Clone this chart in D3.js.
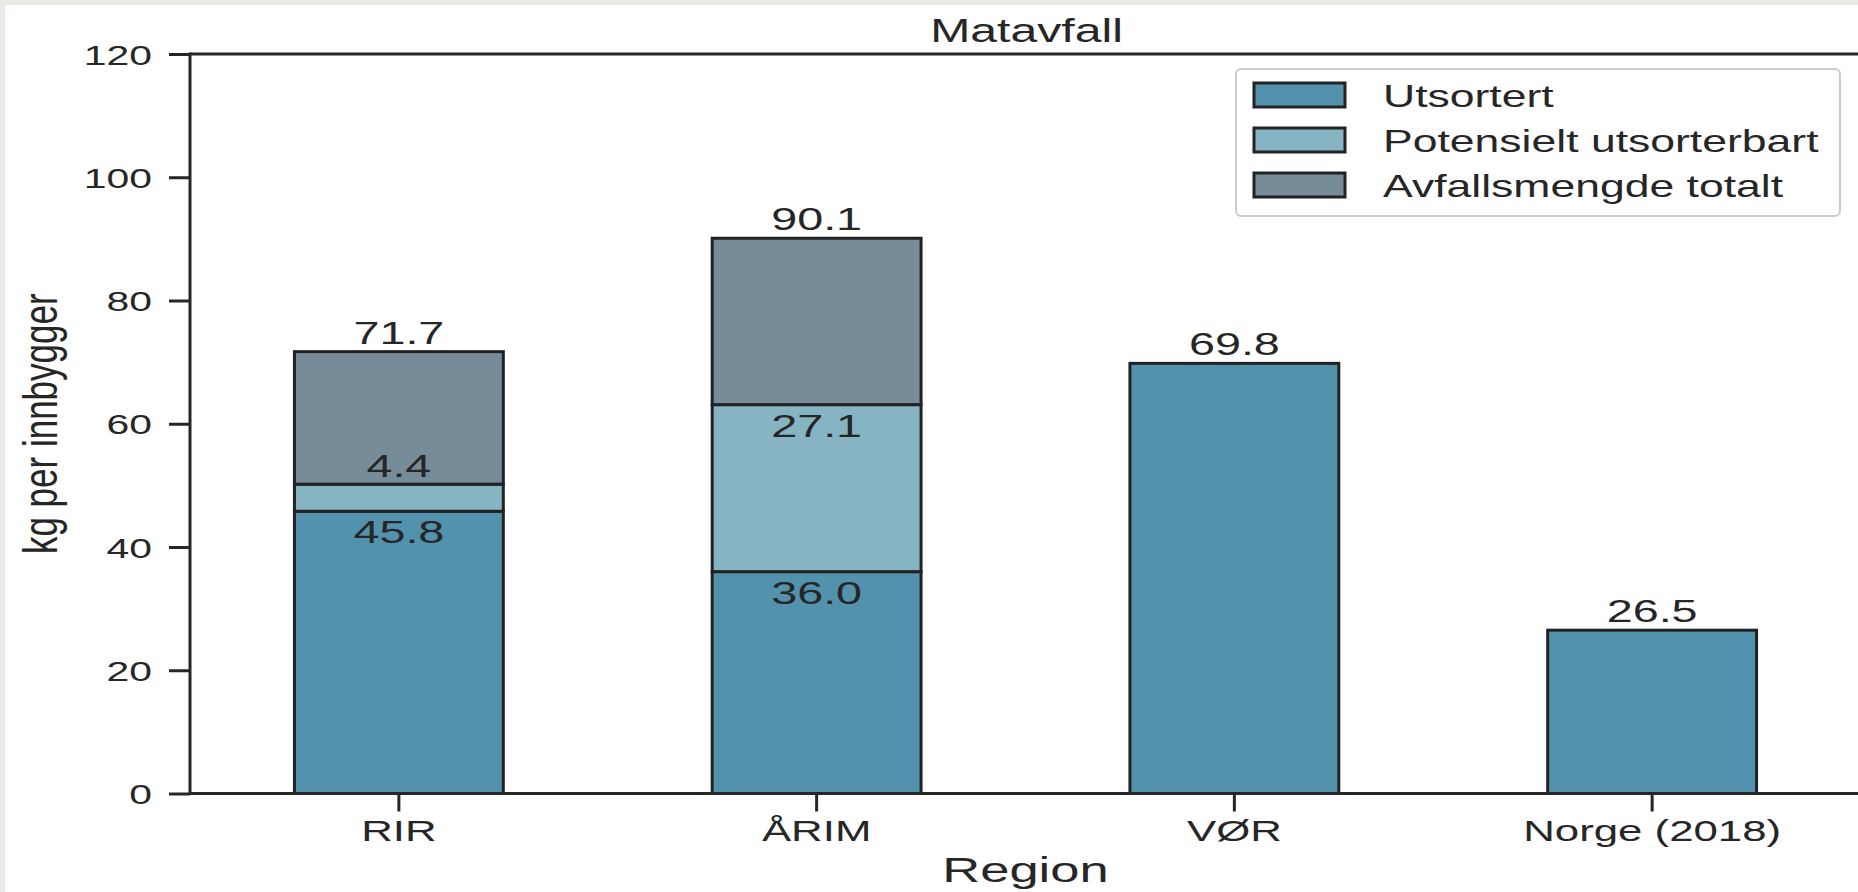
<!DOCTYPE html>
<html>
<head>
<meta charset="utf-8">
<script src="https://cdn.jsdelivr.net/npm/d3@7/dist/d3.min.js"></script>
<style>
  html, body { margin: 0; padding: 0; background: #ebeae7; }
  svg { display: block; }
  text { font-family: "Liberation Sans", Arial, sans-serif; fill: #262626; }
</style>
</head>
<body>
<svg id="chart" width="1858" height="892"></svg>
<script>
// ---- data ----
const regions = ["RIR", "ÅRIM", "VØR", "Norge (2018)"];
const utsortert = [45.8, 36.0, 69.8, 26.5];
const potensielt = [4.4, 27.1, null, null];
const totalt = [71.7, 90.1, null, null];
const seriesNames = ["Utsortert", "Potensielt utsorterbart", "Avfallsmengde totalt"];
const seriesColors = ["#5292ad", "#87b4c3", "#768d99"];
const yTicks = [0, 20, 40, 60, 80, 100, 120];
const title = "Matavfall";
const xLabel = "Region";
const yLabel = "kg per innbygger";

// ---- layout ----
const W = 1858, H = 892;
const L = 190, R = 1861, T = 54, B = 793.5;
const SX = 1.46;           // horizontal stretch of the reference picture
const ink = "#262626", edge = "#222222";

const svg = d3.select("#chart");
svg.append("rect").attr("x", 5).attr("y", 5).attr("width", W).attr("height", H).attr("fill", "#ffffff");

const x = d3.scaleBand().domain(regions).range([L, R]).paddingInner(0.5).paddingOuter(0.25);
const y = d3.scaleLinear().domain([0, 120]).range([B, T]);

function txt(g, px, py, s, size, sx, anchor) {
  return g.append("text")
    .attr("transform", `translate(${px},${py}) scale(${sx},1)`)
    .attr("text-anchor", anchor)
    .style("font-size", size + "px")
    .text(s);
}

// ---- segments ----
const segs = [];
regions.forEach((r, i) => {
  const u = utsortert[i], p = potensielt[i], t = totalt[i];
  const stacked = t != null;
  segs.push({ r, s: 0, y0: 0, y1: u, label: u, stacked });
  if (p != null) segs.push({ r, s: 1, y0: u, y1: u + p, label: p, stacked });
  if (t != null) segs.push({ r, s: 2, y0: u + (p || 0), y1: t, label: t, stacked, total: true });
});

const bars = svg.append("g");
bars.selectAll("rect").data(segs).join("rect")
  .attr("x", d => x(d.r))
  .attr("width", x.bandwidth())
  .attr("y", d => y(d.y1))
  .attr("height", d => y(d.y0) - y(d.y1))
  .attr("fill", d => seriesColors[d.s])
  .attr("stroke", edge)
  .attr("stroke-width", 3);

// ---- axes ----
const yAxis = svg.append("g").attr("transform", `translate(${L},0)`)
  .call(d3.axisLeft(y).tickValues(yTicks).tickSize(21).tickFormat(d3.format("d")));
yAxis.select(".domain").remove();
yAxis.selectAll(".tick line").attr("stroke", ink).attr("stroke-width", 3);
yAxis.selectAll(".tick text")
  .attr("x", -38 / SX).attr("dy", "0.36em")
  .attr("transform", `scale(${SX},1)`)
  .style("font-size", "28px").style("font-family", null).attr("fill", ink);

const xAxis = svg.append("g").attr("transform", `translate(0,${B})`)
  .call(d3.axisBottom(x).tickSize(18));
xAxis.select(".domain").remove();
xAxis.selectAll(".tick line").attr("stroke", ink).attr("stroke-width", 3);
xAxis.selectAll(".tick text")
  .attr("y", 47.5).attr("dy", 0)
  .attr("transform", `scale(${SX},1)`)
  .style("font-size", "30px").style("font-family", null).attr("fill", ink);

// spines (left, top, bottom; right spine falls outside the picture)
const sp = svg.append("g").attr("stroke", ink).attr("stroke-width", 3).attr("fill", "none");
sp.append("line").attr("x1", L).attr("x2", L).attr("y1", T - 1.5).attr("y2", B + 1.5);
sp.append("line").attr("x1", L).attr("x2", W).attr("y1", T).attr("y2", T);
sp.append("line").attr("x1", L).attr("x2", W).attr("y1", B).attr("y2", B);

// ---- value labels ----
const lab = svg.append("g");
segs.forEach(d => {
  const cx = x(d.r) + x.bandwidth() / 2;
  let py;
  const hpx = y(d.y0) - y(d.y1);
  if (d.total || !d.stacked) py = y(d.y1) - 8;
  else if (hpx < 40) py = y(d.y1) - 7;
  else py = y(d.y1) + 32;
  txt(lab, cx, py, d3.format(".1f")(d.label), 32, SX, "middle");
});

// ---- titles ----
txt(svg, (L + R) / 2 + 1, 42, title, 33, SX, "middle");
txt(svg, (L + R) / 2, 882, xLabel, 35, 1.5, "middle");
svg.append("text")
  .attr("transform", `translate(57,${(T + B) / 2}) scale(1.36,1) rotate(-90)`)
  .attr("text-anchor", "middle")
  .style("font-size", "35px")
  .text(yLabel);

// ---- legend ----
const lg = svg.append("g");
lg.append("rect").attr("x", 1236).attr("y", 69).attr("width", 604).attr("height", 147)
  .attr("rx", 5).attr("fill", "#ffffff").attr("fill-opacity", 0.85)
  .attr("stroke", "#cccccc").attr("stroke-width", 2);
seriesNames.forEach((n, i) => {
  const cy = 95 + i * 45;
  lg.append("rect").attr("x", 1254).attr("y", cy - 12).attr("width", 91).attr("height", 24)
    .attr("fill", seriesColors[i]).attr("stroke", edge).attr("stroke-width", 3);
  txt(lg, 1383, cy + 11.5, n, 30.5, SX, "start");
});
</script>
</body>
</html>
